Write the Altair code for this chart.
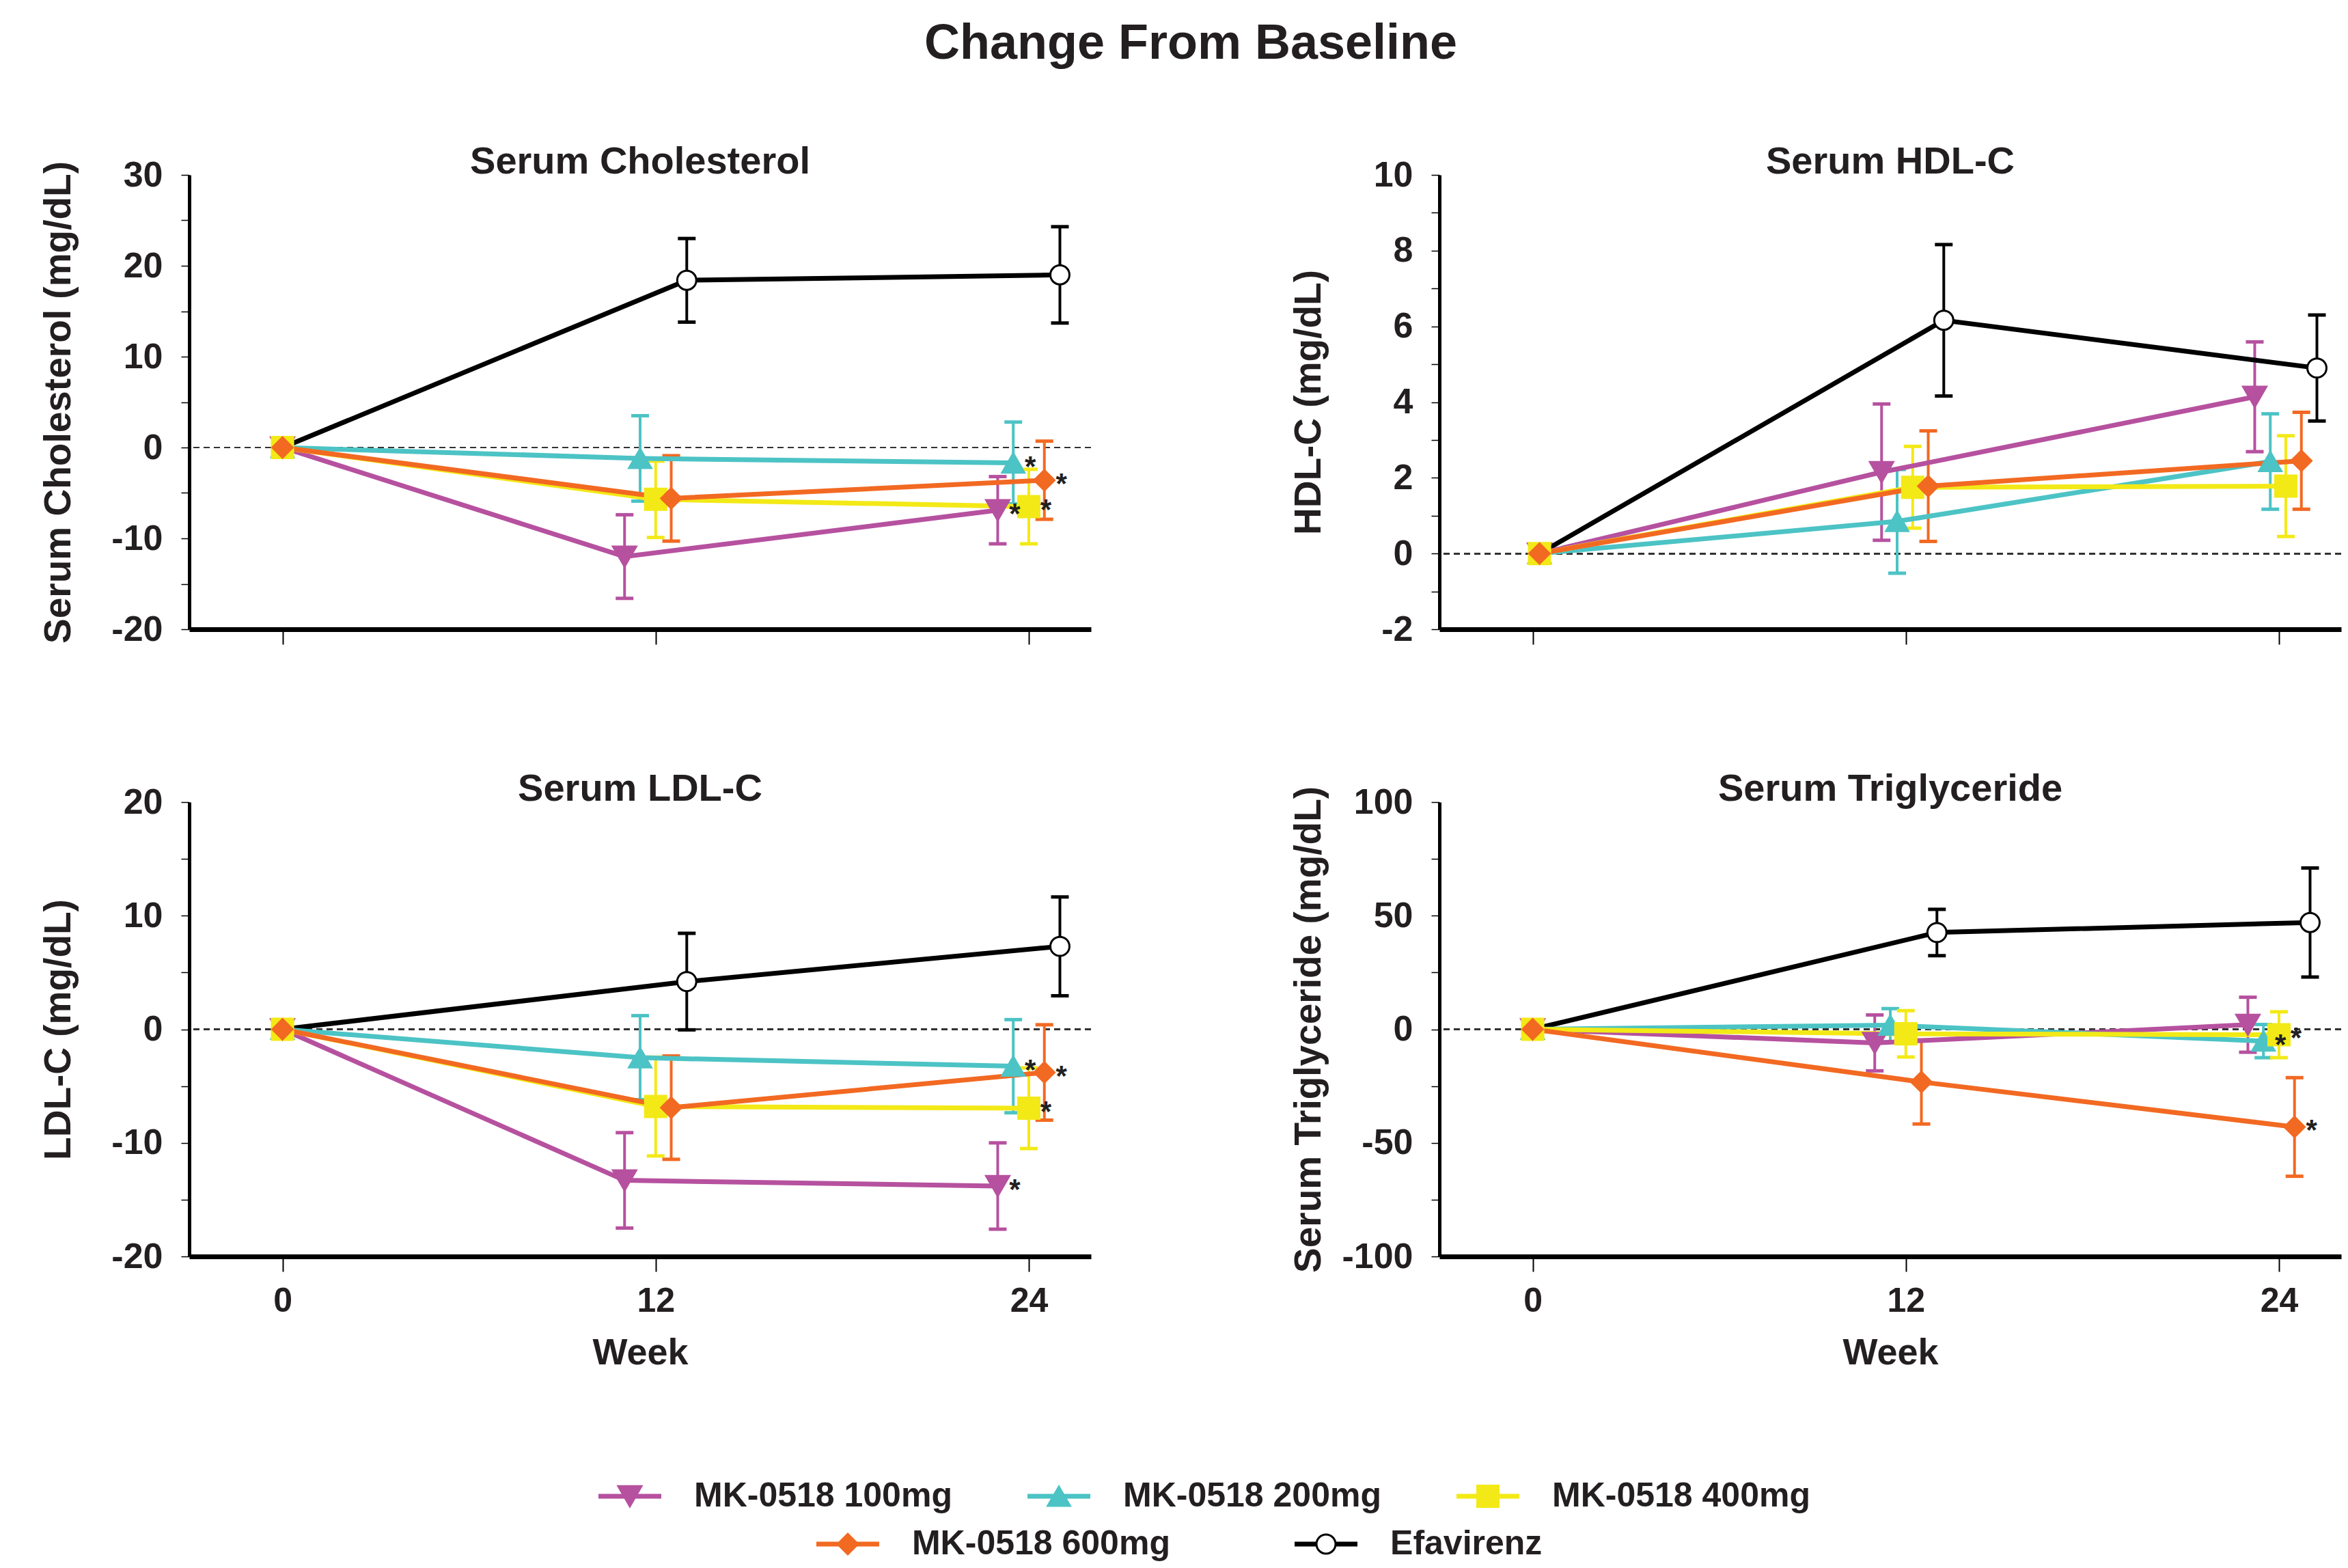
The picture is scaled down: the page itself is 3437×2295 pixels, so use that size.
import altair as alt
import pandas as pd

# ---------------- data ----------------
series = ["MK-0518 100mg", "MK-0518 200mg", "MK-0518 400mg", "MK-0518 600mg", "Efavirenz"]
weeks = [0, 12, 24]

# mean change from baseline, per series (order as above), at weeks 0 / 12 / 24
chol_mean = [[0, -12.0, -6.9], [0, -1.2, -1.7], [0, -5.7, -6.5], [0, -5.6, -3.6], [0, 18.4, 19.0]]
chol_se = [[0, 4.6, 3.7], [0, 4.7, 4.5], [0, 4.2, 4.1], [0, 4.7, 4.3], [0, 4.6, 5.3]]
chol_star = ["MK-0518 100mg", "MK-0518 200mg", "MK-0518 400mg", "MK-0518 600mg"]

hdl_mean = [[0, 2.15, 4.14], [0, 0.85, 2.43], [0, 1.75, 1.78], [0, 1.78, 2.45], [0, 6.16, 4.9]]
hdl_se = [[0, 1.8, 1.45], [0, 1.37, 1.26], [0, 1.08, 1.33], [0, 1.46, 1.28], [0, 2.0, 1.4]]
hdl_star = []

ldl_mean = [[0, -13.3, -13.8], [0, -2.5, -3.25], [0, -6.8, -6.95], [0, -6.9, -3.8], [0, 4.2, 7.3]]
ldl_se = [[0, 4.2, 3.8], [0, 3.7, 4.1], [0, 4.35, 3.55], [0, 4.55, 4.2], [0, 4.25, 4.35]]
ldl_star = ["MK-0518 100mg", "MK-0518 200mg", "MK-0518 400mg", "MK-0518 600mg"]

tg_mean = [[0, -6.0, 2.0], [0, 1.8, -5.2], [0, -2.0, -2.4], [0, -23.2, -43.0], [0, 42.6, 47.0]]
tg_se = [[0, 12.3, 12.1], [0, 7.3, 7.3], [0, 10.2, 10.1], [0, 18.5, 21.7], [0, 10.2, 24.0]]
tg_star = ["MK-0518 200mg", "MK-0518 400mg", "MK-0518 600mg"]

# ---------------- styles ----------------
FONT = "Liberation Sans"
INK = "#231F20"
colors = ["#B6519F", "#4CC3C5", "#F3E916", "#F26922", "#000000"]
fills = ["#B6519F", "#4CC3C5", "#F3E916", "#F26922", "#FFFFFF"]
shapes = ["triangle-down", "triangle-up", "square", "diamond", "circle"]
sizes = [1150, 780, 780, 700, 1000]
dodge = [-1.0, -0.5, 0.0, 0.5, 1.0]
draw_order = [4, 0, 1, 2, 3]

color_scale = alt.Scale(domain=series, range=colors)
fill_scale = alt.Scale(domain=series, range=fills)
shape_scale = alt.Scale(domain=series, range=shapes)
size_scale = alt.Scale(domain=series, range=sizes)

PW, PH = 1320, 665


def panel(title, means, ses, stars, ydom, ymajor, yminor, ytitle, bottom, shift=0.0):
    rows = []
    for i in draw_order:
        s = series[i]
        for j, w in enumerate(weeks):
            m = means[i][j]
            e = ses[i][j]
            rows.append({
                "series": s, "week": w,
                "xpos": w + (dodge[i] if w > 0 else 0.0) + shift,
                "mean": m, "lo": m - e, "hi": m + e,
                "star": bool(w == weeks[-1] and s in stars),
            })
    df = pd.DataFrame(rows)

    xs = alt.Scale(domain=[-3, 26], nice=False, zero=False)
    ys = alt.Scale(domain=ydom, nice=False, zero=False)
    yvals = list(range(ydom[0], ydom[1] + 1, yminor))

    xkw = dict(values=weeks, grid=False, domainWidth=7, domainColor="black",
               tickColor="black", tickSize=22, tickWidth=2, labelFlush=False,
               labels=bottom)
    if bottom:
        xkw.update(labelFont=FONT, labelFontSize=50, labelFontWeight="bold",
                   labelColor=INK, labelPadding=18, title="Week", titleFont=FONT,
                   titleFontSize=54, titleFontWeight="bold", titleColor=INK,
                   titleBaseline="alphabetic", titleY=157)
    else:
        xkw.update(title=None)
    xaxis = alt.Axis(**xkw)
    yaxis = alt.Axis(values=yvals, grid=False, domainWidth=5, domainColor="black",
                     tickColor="black", tickSize=12, tickWidth=1.5,
                     labelExpr="(datum.value %% %d === 0) ? ('' + datum.value) : ''" % ymajor,
                     labelFont=FONT, labelFontSize=52, labelFontWeight="bold",
                     labelColor=INK, labelPadding=27, labelFlush=False, labelOverlap=False,
                     title=ytitle, titleFont=FONT, titleFontSize=55, titleFontWeight="bold",
                     titleColor=INK, titleBaseline="alphabetic", titleX=-175)

    X = alt.X("xpos:Q", scale=xs, axis=xaxis)

    def Y(f):
        return alt.Y(f, type="quantitative", scale=ys, axis=yaxis)

    col = alt.Color("series:N", scale=color_scale, legend=None)
    base = alt.Chart(df)
    sub = base.transform_filter("datum.week > 0")

    zero = base.mark_rule(color="#333333", strokeWidth=2, strokeDash=[9, 6]).encode(
        y=alt.Y(datum=0, type="quantitative", scale=ys, axis=yaxis))
    err = sub.mark_rule(strokeWidth=4).encode(x=X, y=Y("lo"), y2="hi:Q", color=col)
    cap_lo = sub.mark_tick(orient="horizontal", size=26, thickness=5, opacity=1).encode(
        x=X, y=Y("lo"), color=col)
    cap_hi = sub.mark_tick(orient="horizontal", size=26, thickness=5, opacity=1).encode(
        x=X, y=Y("hi"), color=col)
    line = base.mark_line(strokeWidth=7).encode(x=X, y=Y("mean"), color=col,
                                                 order="week:Q")
    pts = base.mark_point(opacity=1, strokeWidth=3, fillOpacity=1).encode(
        x=X, y=Y("mean"),
        shape=alt.Shape("series:N", scale=shape_scale, legend=None),
        fill=alt.Fill("series:N", scale=fill_scale, legend=None),
        stroke=alt.Stroke("series:N", scale=color_scale, legend=None),
        size=alt.Size("series:N", scale=size_scale, legend=None))
    star = base.transform_filter("datum.star").mark_text(
        text="*", font=FONT, fontSize=42, fontWeight="bold", color=INK,
        dx=25, dy=6, align="center", baseline="middle").encode(x=X, y=Y("mean"))

    return alt.layer(zero, err, cap_lo, cap_hi, line, pts, star).properties(
        width=PW, height=PH,
        title=alt.TitleParams(title, font=FONT, fontSize=56, fontWeight="bold",
                              color=INK, anchor="middle", baseline="alphabetic",
                              frame="group", offset=-80))


p1 = panel("Serum Cholesterol", chol_mean, chol_se, chol_star, [-20, 30], 10, 5,
           "Serum Cholesterol (mg/dL)", False)
p2 = panel("Serum HDL-C", hdl_mean, hdl_se, hdl_star, [-2, 10], 2, 1,
           "HDL-C (mg/dL)", False, shift=0.22)
p3 = panel("Serum LDL-C", ldl_mean, ldl_se, ldl_star, [-20, 20], 10, 5,
           "LDL-C (mg/dL)", True)
p4 = panel("Serum Triglyceride", tg_mean, tg_se, tg_star, [-100, 100], 50, 25,
           "Serum Triglyceride (mg/dL)", True)


def legend_row(names, width, pad_outer, pad_inner):
    ldf = pd.DataFrame({"series": names})
    lx = alt.X("series:N", scale=alt.Scale(domain=names, type="band",
                                           paddingOuter=pad_outer, paddingInner=pad_inner),
               axis=None)
    b = alt.Chart(ldf)
    seg = b.mark_tick(orient="horizontal", size=92, thickness=7, opacity=1).encode(
        x=lx, color=alt.Color("series:N", scale=color_scale, legend=None))
    pt = b.mark_point(opacity=1, strokeWidth=3, fillOpacity=1).encode(
        x=lx,
        shape=alt.Shape("series:N", scale=shape_scale, legend=None),
        fill=alt.Fill("series:N", scale=fill_scale, legend=None),
        stroke=alt.Stroke("series:N", scale=color_scale, legend=None),
        size=alt.Size("series:N", scale=size_scale, legend=None))
    tx = b.mark_text(align="left", baseline="middle", dx=94, font=FONT, fontSize=50,
                     fontWeight="bold", color=INK).encode(x=lx, text="series:N")
    return alt.layer(seg, pt, tx).properties(width=width, height=40)


leg1 = legend_row(series[:3], 2546, 0.527, 0.0)
leg2 = legend_row(series[3:], 2628, 1.0, 0.246)

grid = alt.concat(p1, p2, p3, p4, columns=2, spacing={"row": 180, "column": 289})
legend_block = alt.vconcat(leg1, leg2, spacing=20)

chart = alt.vconcat(grid, legend_block, spacing=158).properties(
    title=alt.TitleParams("Change From Baseline", font=FONT, fontSize=72,
                          fontWeight="bold", color=INK, anchor="middle",
                          frame="bounds", baseline="alphabetic", offset=51),
    padding={"left": 49, "top": 20, "right": 0, "bottom": 0},
).configure_view(stroke=None)

chart.save("out.html", embed_options={"renderer": "svg", "actions": False})
